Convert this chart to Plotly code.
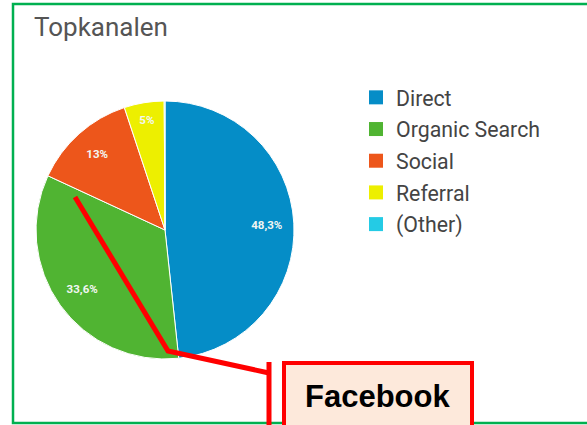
import plotly.graph_objects as go

W, H = 587, 425

channels = ["Direct", "Organic Search", "Social", "Referral", "(Other)"]
shares = [48.3, 33.6, 13, 5, 0.1]
colors = ["#058dc7", "#50b432", "#ed561b", "#edef00", "#24cbe5"]
slice_labels = ["48,3%", "33,6%", "13%", "5%", ""]

title_text = "Topkanalen"
callout_text = "Facebook"


def px(x):
    return x / W


def py(y):
    return 1 - y / H


pie_domain = dict(x=[px(36), px(294)], y=[py(359), py(101)])

fig = go.Figure()
# coloured slices
fig.add_trace(go.Pie(
    labels=channels,
    values=shares,
    textinfo="none",
    marker=dict(colors=colors, line=dict(color="#ffffff", width=1)),
    sort=False,
    direction="clockwise",
    rotation=0,
    domain=pie_domain,
    showlegend=False,
    hoverinfo="label+percent",
))
# transparent ring carrying the percentage labels
fig.add_trace(go.Pie(
    labels=channels,
    values=shares,
    text=slice_labels,
    textinfo="text",
    textposition="inside",
    insidetextorientation="horizontal",
    textfont=dict(family="Roboto", size=11.5, color="#f2f6f2", weight="bold"),
    marker=dict(colors=["rgba(0,0,0,0)"] * len(channels), line=dict(width=0)),
    hole=0.58,
    sort=False,
    direction="clockwise",
    rotation=0,
    domain=pie_domain,
    showlegend=False,
    hoverinfo="skip",
))
# legend entries
for name, col in zip(channels, colors):
    fig.add_trace(go.Scatter(
        x=[None], y=[None], mode="markers", name=name, legendgroup=name,
        marker=dict(symbol="square", size=14, color=col, line=dict(width=0)),
    ))

shapes = [
    # green frame
    dict(type="rect", xref="paper", yref="paper", x0=px(13), x1=px(610), y0=py(4), y1=py(423),
         line=dict(color="#00b050", width=2.5), fillcolor="rgba(0,0,0,0)", layer="below"),
    # red callout line
    dict(type="path", xref="paper", yref="paper",
         path=f"M {px(75)} {py(197)} L {px(168)} {py(351)} L {px(269)} {py(373)}",
         line=dict(color="#ff0000", width=5), layer="above"),
    dict(type="line", xref="paper", yref="paper", x0=px(269), x1=px(269), y0=py(362), y1=py(440),
         line=dict(color="#ff0000", width=5), layer="above"),
    # callout box
    dict(type="rect", xref="paper", yref="paper", x0=px(284), x1=px(472), y0=py(363), y1=py(445),
         line=dict(color="#ff0000", width=4), fillcolor="#fde9db", layer="above"),
]

fig.update_layout(
    width=W, height=H,
    margin=dict(l=0, r=0, t=0, b=0),
    paper_bgcolor="#ffffff",
    plot_bgcolor="#ffffff",
    xaxis=dict(visible=False),
    yaxis=dict(visible=False),
    shapes=shapes,
    showlegend=True,
    legend=dict(
        x=px(356), y=py(77), xanchor="left", yanchor="top",
        font=dict(family="Roboto", size=21.3, color="#444444"),
        bgcolor="rgba(0,0,0,0)", traceorder="grouped", tracegroupgap=1,
    ),
    annotations=[
        dict(text=title_text, x=px(32), y=py(27), xref="paper", yref="paper",
             xanchor="left", yanchor="middle", showarrow=False,
             font=dict(family="Roboto", size=26, color="#555555")),
        dict(text=f"<b>{callout_text}</b>", x=px(378), y=py(396), xref="paper", yref="paper",
             xanchor="center", yanchor="middle", showarrow=False,
             font=dict(family="Liberation Sans", size=31, color="#000000")),
    ],
)

fig.write_html("out.html", config={"displayModeBar": False},
               post_script="document.body.style.margin='0';")
